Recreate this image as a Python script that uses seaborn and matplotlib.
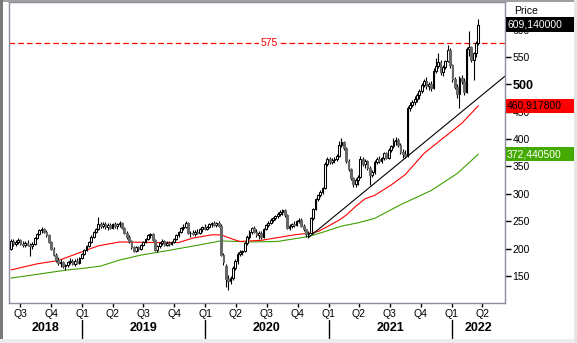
import numpy as np
import pandas as pd
import matplotlib
matplotlib.use('Agg')
import matplotlib.pyplot as plt
import matplotlib.dates as mdates
import matplotlib.transforms as mtransforms
from matplotlib.patches import Rectangle
import seaborn as sns

sns.set_theme(style='white')
plt.rcParams['font.family'] = ['Liberation Sans', 'DejaVu Sans']

# ---------------- data (weekly candles, USD) ----------------
start_date = '2018-06-04'

opens = [
    200, 214, 208, 212, 216, 209, 206, 211, 207, 204,
    209, 220, 226, 233, 236, 230, 224, 212, 200, 188,
    179, 174, 176, 168, 170, 175, 178, 172, 178, 174,
    182, 190, 198, 204, 212, 222, 230, 236, 245, 241,
    245, 239, 243, 238, 244, 241, 245, 247, 238, 228,
    221, 213, 203, 196, 202, 199, 206, 212, 218, 224,
    226, 216, 198, 204, 210, 214, 207, 211, 208, 212,
    218, 224, 230, 238, 240, 246, 228, 229, 226, 231,
    229, 235, 239, 236, 240, 244, 246, 243, 247, 242,
    188, 168, 145, 141, 146, 165, 177, 190, 193, 195,
    210, 222, 231, 237, 230, 225, 228, 222, 235, 243,
    247, 252, 255, 260, 263, 266, 270, 261, 238, 241,
    245, 243, 251, 253, 242, 235, 226, 229, 255, 272,
    290, 297, 304, 311, 355, 364, 359, 362, 364, 369,
    390, 395, 384, 360, 345, 328, 318, 325, 330, 364,
    355, 360, 347, 334, 340, 358, 364, 360, 365, 374,
    366, 380, 387, 396, 399, 390, 377, 372, 370, 457,
    463, 468, 473, 480, 488, 499, 506, 497, 501, 493,
    525, 533, 540, 522, 532, 542, 562, 535, 510, 496,
    482, 512, 506, 486, 565, 568, 545, 557, 575,
]
highs = [
    217, 218, 215, 219, 218, 214, 213, 216, 210, 212,
    222, 229, 236, 240, 238, 234, 226, 214, 203, 192,
    184, 180, 178, 172, 178, 182, 181, 180, 182, 184,
    192, 200, 206, 214, 224, 232, 238, 258, 249, 248,
    249, 246, 247, 246, 248, 247, 250, 249, 240, 232,
    224, 216, 205, 204, 205, 208, 214, 220, 226, 229,
    228, 218, 206, 212, 217, 216, 213, 214, 214, 220,
    226, 232, 240, 244, 250, 248, 232, 233, 234, 236,
    237, 241, 244, 242, 246, 249, 250, 248, 250, 244,
    192, 172, 152, 150, 168, 180, 194, 197, 198, 212,
    224, 234, 240, 241, 236, 232, 232, 238, 245, 250,
    255, 258, 262, 266, 270, 273, 272, 263, 244, 247,
    250, 253, 256, 255, 244, 236, 232, 258, 275, 293,
    300, 307, 313, 358, 368, 368, 366, 368, 372, 396,
    402, 396, 386, 364, 348, 330, 328, 334, 370, 368,
    364, 362, 350, 344, 362, 368, 369, 368, 377, 376,
    384, 390, 402, 404, 402, 392, 382, 380, 460, 468,
    472, 478, 484, 492, 502, 510, 514, 505, 506, 530,
    548, 557, 544, 536, 545, 572, 566, 537, 514, 500,
    516, 518, 512, 568, 597, 570, 560, 580, 620,
]
lows = [
    197, 205, 204, 208, 206, 203, 202, 205, 186, 200,
    207, 218, 224, 229, 228, 222, 210, 198, 186, 176,
    170, 166, 164, 161, 166, 171, 170, 169, 172, 172,
    180, 188, 195, 202, 210, 220, 228, 234, 238, 237,
    236, 234, 235, 236, 238, 236, 240, 236, 226, 218,
    210, 200, 193, 194, 196, 197, 204, 210, 216, 219,
    214, 196, 194, 201, 206, 204, 204, 205, 206, 210,
    216, 222, 228, 234, 238, 226, 222, 224, 223, 226,
    227, 231, 233, 234, 238, 240, 241, 240, 239, 186,
    170, 130, 124, 136, 142, 160, 172, 186, 188, 193,
    206, 218, 226, 228, 222, 218, 218, 220, 233, 240,
    244, 248, 252, 256, 260, 262, 258, 236, 234, 237,
    240, 241, 246, 240, 232, 222, 220, 228, 252, 270,
    286, 294, 300, 309, 350, 354, 355, 357, 360, 367,
    385, 380, 356, 342, 325, 312, 312, 316, 328, 350,
    348, 344, 316, 330, 336, 354, 356, 356, 362, 363,
    364, 376, 384, 390, 386, 372, 365, 366, 368, 452,
    458, 462, 468, 474, 485, 495, 492, 490, 488, 491,
    520, 530, 518, 515, 528, 540, 530, 505, 492, 475,
    456, 500, 480, 484, 551, 540, 508, 550, 572,
]
closes = [
    214, 208, 212, 216, 209, 206, 211, 207, 204, 209,
    220, 226, 233, 236, 230, 224, 212, 200, 188, 179,
    174, 176, 168, 170, 175, 178, 172, 178, 174, 182,
    190, 198, 204, 212, 222, 230, 236, 245, 241, 245,
    239, 243, 238, 244, 241, 245, 247, 238, 228, 221,
    213, 203, 196, 202, 199, 206, 212, 218, 224, 226,
    216, 198, 204, 210, 214, 207, 211, 208, 212, 218,
    224, 230, 238, 240, 246, 228, 229, 226, 231, 229,
    235, 239, 236, 240, 244, 246, 243, 247, 242, 188,
    175, 145, 141, 146, 165, 177, 190, 193, 195, 210,
    222, 231, 237, 230, 225, 228, 222, 235, 243, 247,
    252, 255, 260, 263, 266, 270, 261, 238, 241, 245,
    243, 251, 253, 242, 235, 226, 229, 255, 272, 290,
    297, 304, 311, 355, 364, 359, 362, 364, 369, 390,
    395, 384, 360, 345, 328, 318, 325, 330, 364, 355,
    360, 347, 334, 340, 358, 364, 360, 365, 374, 366,
    380, 387, 396, 399, 390, 377, 372, 370, 457, 463,
    468, 473, 480, 488, 499, 506, 497, 501, 493, 525,
    533, 540, 522, 532, 542, 562, 535, 510, 496, 482,
    512, 506, 486, 565, 568, 545, 557, 575, 609.14,
]

# moving averages read at selected weeks (index into the weekly series)
ma_red_weeks = [0, 11, 20, 30, 37, 46, 62, 71, 77, 85, 89, 94, 97, 106, 113,
                120, 126, 130, 134, 139, 142, 146, 150, 154, 161, 167, 175,
                184, 191, 198]
ma_red_vals = [161, 172, 178, 194, 205, 212, 211, 211, 219, 225, 225, 217, 213,
               215, 220, 225, 228, 231, 240, 252, 261, 277, 291, 297, 316, 335,
               374, 405, 429, 460.9178]
ma_green_weeks = [0, 24, 31, 38, 46, 55, 66, 79, 89, 101, 113, 126, 133, 140,
                  147, 154, 165, 178, 189, 198]
ma_green_vals = [146, 161, 164, 168, 179, 188, 196, 206, 214, 212, 213, 222,
                 231, 241, 247, 255, 280, 306, 337, 372.4405]

trend_dates = ['2020-11-02', '2022-06-08']
trend_vals = [220, 515]

resistance = 575
resistance_label_date = '2020-07-10'

last_close_label = '609,140000'
red_label = '460,917800'
green_label = '372,440500'
yticks = [150, 200, 250, 300, 350, 400, 450, 500, 550, 600]
quarter_names = {1: 'Q1', 4: 'Q2', 7: 'Q3', 10: 'Q4'}
years = [2018, 2019, 2020, 2021, 2022]

# ---------------- figure ----------------
W, H = 577, 343
fig = plt.figure(figsize=(W / 100, H / 100), dpi=100)
fig.patch.set_facecolor('white')
ax_l, ax_r, ax_t, ax_b = 9, 505, 2, 303
ax = fig.add_axes([ax_l / W, 1 - ax_b / H, (ax_r - ax_l) / W, (ax_b - ax_t) / H])
ax.set_facecolor('white')

dates = pd.date_range(start_date, periods=len(closes), freq='7D')
df = pd.DataFrame({'date': dates, 'open': opens, 'high': highs,
                   'low': lows, 'close': closes})
xn = mdates.date2num(df['date'])
o = df['open'].to_numpy(float)
c = df['close'].to_numpy(float)
up = c >= o

# moving averages
red_df = pd.DataFrame({'date': dates[ma_red_weeks], 'v': ma_red_vals})
green_df = pd.DataFrame({'date': dates[ma_green_weeks], 'v': ma_green_vals})
sns.lineplot(data=green_df, x='date', y='v', ax=ax, color='#3f9f00', lw=0.8,
             estimator=None, sort=False, zorder=1)
sns.lineplot(data=red_df, x='date', y='v', ax=ax, color='#ff0000', lw=0.8,
             estimator=None, sort=False, zorder=1)

# trend line
ax.plot(pd.to_datetime(trend_dates), trend_vals, color='black', lw=0.8, zorder=1)

# resistance line
ax.axhline(resistance, color='#ff0000', lw=0.9, ls=(0, (4.5, 2.5)), zorder=1)
ax.text(pd.Timestamp(resistance_label_date), resistance, str(resistance),
        color='#ff0000', ha='center', va='center', fontsize=7.5,
        bbox=dict(facecolor='white', edgecolor='none', pad=1.2), zorder=2)

# candles
ax.vlines(xn, df['low'], df['high'], color='black', lw=0.8, zorder=2)
bw = 5.2
ax.bar(xn[up], (c - o)[up], bottom=o[up], width=bw, color='white',
       edgecolor='black', lw=0.75, zorder=3)
ax.bar(xn[~up], (c - o)[~up], bottom=o[~up], width=bw, color='#676767',
       edgecolor='#676767', lw=0.75, zorder=3)

# limits
x0 = mdates.date2num(pd.Timestamp(start_date) - pd.Timedelta(days=6))
x1 = mdates.date2num(pd.Timestamp(start_date) + pd.Timedelta(days=1465))
ax.set_xlim(x0, x1)
ax.set_ylim(100.5, 650.5)
ax.set_xlabel('')
ax.set_ylabel('')

for s in ax.spines.values():
    s.set_color('#8c8c9c')
    s.set_linewidth(1.0)

# y axis on the right
ax.yaxis.tick_right()
ax.set_yticks(yticks)
ax.set_yticklabels([str(v) for v in yticks])
ax.tick_params(axis='y', which='both', right=True, left=False, length=4,
               width=1, color='black', pad=1.5, labelsize=7.5, labelcolor='black')
for lab in ax.get_yticklabels():
    if lab.get_text() == '500':
        lab.set_fontweight('bold')
        lab.set_fontsize(9)

# x axis quarters
qdates = pd.date_range('2018-07-01', '2022-04-01', freq='QS')
ax.set_xticks(mdates.date2num(qdates))
ax.set_xticklabels([quarter_names[d.month] for d in qdates])
ax.tick_params(axis='x', which='both', bottom=True, length=3, width=1,
               color='black', pad=1.5, labelsize=7.5, labelcolor='black')

# year labels and separators
ah = ax_b - ax_t
trans = mtransforms.blended_transform_factory(ax.transData, ax.transAxes)
for yr in years:
    ys = max(mdates.date2num(pd.Timestamp(f'{yr}-01-01')), x0)
    ye = min(mdates.date2num(pd.Timestamp(f'{yr + 1}-01-01')), x1)
    ax.text((ys + ye) / 2, -(328 - ax_b) / ah, str(yr), transform=trans,
            ha='center', va='center', fontsize=9, fontweight='bold',
            color='black', clip_on=False)
    if yr > 2018:
        xs = mdates.date2num(pd.Timestamp(f'{yr}-01-01'))
        ax.plot([xs, xs], [-(320 - ax_b) / ah, -(338 - ax_b) / ah],
                transform=trans, color='black', lw=1.0, clip_on=False)

# right-hand value labels
aw = ax_r - ax_l
ltrans = mtransforms.blended_transform_factory(ax.transAxes, ax.transData)
half = 7.2 / (ah / (650.5 - 100.5))
for val, txt, fc, tc in [(609.14, last_close_label, 'black', 'white'),
                         (460.9178, red_label, '#ff0000', 'black'),
                         (372.4405, green_label, '#44aa00', 'white')]:
    ax.add_patch(Rectangle((1.0 + 1 / aw, val - half), 75 / aw, 2 * half,
                           transform=ltrans, facecolor=fc, edgecolor='none',
                           clip_on=False, zorder=5))
    ax.text(1.0 + 2 / aw, val, txt, transform=ltrans, color=tc, ha='left',
            va='center', fontsize=7.5, clip_on=False, zorder=6)

fig.text(514 / W, 1 - 11 / H, 'Price', fontsize=7.5, color='black',
         ha='left', va='center')

# window borders
fig.add_artist(Rectangle((0, 1 - 1.5 / H), 1, 1.5 / H, transform=fig.transFigure,
                         facecolor='#a0a0a0', edgecolor='none'))
fig.add_artist(Rectangle((0, 0), 2.5 / W, 1, transform=fig.transFigure,
                         facecolor='#7a7a7a', edgecolor='none'))
fig.add_artist(Rectangle((0, 0), 1, 4.5 / H, transform=fig.transFigure,
                         facecolor='#ececec', edgecolor='none'))
fig.add_artist(Rectangle((1 - 3 / W, 0), 3 / W, 1, transform=fig.transFigure,
                         facecolor='#e6e6e6', edgecolor='none'))

fig.savefig('out.png', dpi=100)
